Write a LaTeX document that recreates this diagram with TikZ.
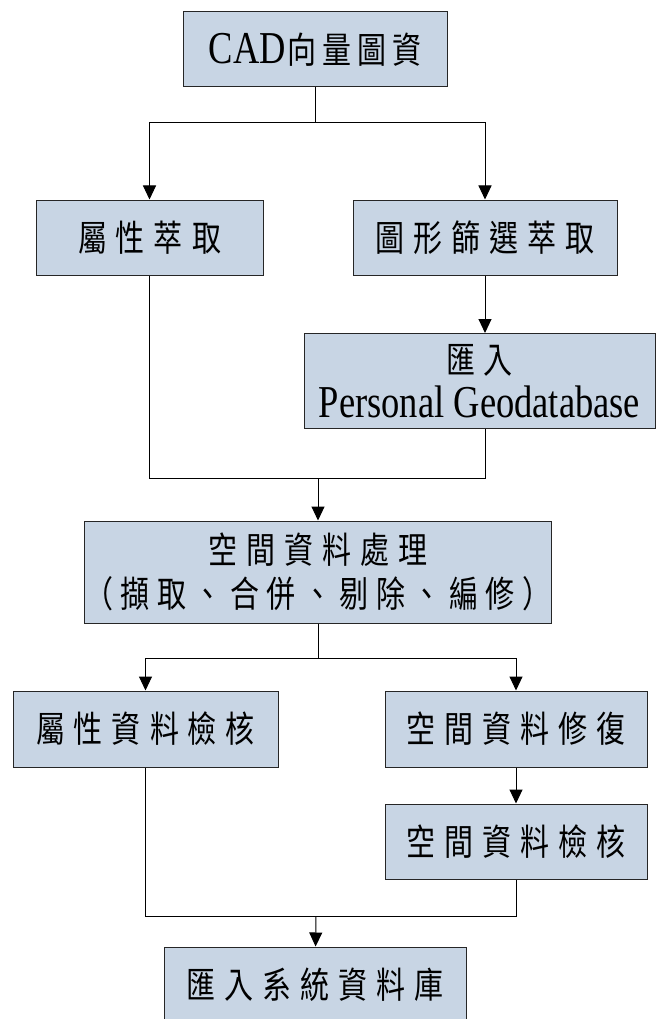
\documentclass[tikz,border=0pt]{standalone}
\usepackage{fontspec}
\usepackage{graphicx}
\setmainfont{Liberation Serif}
\newfontfamily\cjk{Noto Sans CJK TC}
\newfontfamily\latin{Liberation Serif}
\usetikzlibrary{arrows.meta}
\definecolor{boxblue}{RGB}{200,213,228}
\newcommand\tx[1]{\scalebox{1}[1.25]{#1}}
\newcommand\cgap{\hspace{9pt}}
\newcommand\pgap{\hspace{7.5pt}}
\newcommand\latinfs{\latin\fontsize{36.5}{44}\selectfont}
\tikzset{
  box/.style={draw=black!85, fill=boxblue, line width=1pt, inner sep=0pt, align=center,
              font=\cjk\fontsize{29}{44}\selectfont},
  conn/.style={line width=1pt, draw=black},
  arrow/.style={conn, -{Triangle[length=14pt,width=13pt]}}
}
\begin{document}
\begin{tikzpicture}[x=1pt,y=-1pt]
\fill[white] (0,0) rectangle (656,1019);
\useasboundingbox (0,0) rectangle (656,1019);
\clip (0,0) rectangle (656,1019);

% nodes
\node[box, minimum width=264pt, minimum height=75pt] (cad) at (315,49.5)
  {\tx{{\latinfs CAD}\hspace{1pt}向\hspace{6pt}量\hspace{6pt}圖\hspace{6pt}資}};
\node[box, minimum width=227pt, minimum height=75pt] (a1) at (149.5,237.5)
  {\tx{屬\cgap 性\cgap 萃\cgap 取}};
\node[box, minimum width=264pt, minimum height=75pt] (a2) at (485,237.5)
  {\tx{圖\cgap 形\cgap 篩\cgap 選\cgap 萃\cgap 取}};
\node[box, minimum width=351pt, minimum height=95pt] (a3) at (479.5,381)
  {\tx{匯\cgap 入}\\\tx{\latinfs Personal Geodatabase}};
\node[box, minimum width=458pt, minimum height=102pt] (b) at (318,572)
  {\tx{空\cgap 間\cgap 資\cgap 料\cgap 處\cgap 理}\\\tx{（\pgap 擷\pgap 取\pgap 、\pgap 合\pgap 併\pgap 、\pgap 剔\pgap 除\pgap 、\pgap 編\pgap 修\pgap ）}};
\node[box, minimum width=265pt, minimum height=76pt] (c1) at (145.5,729)
  {\tx{屬\cgap 性\cgap 資\cgap 料\cgap 檢\cgap 核}};
\node[box, minimum width=262pt, minimum height=76pt] (c2) at (516,729)
  {\tx{空\cgap 間\cgap 資\cgap 料\cgap 修\cgap 復}};
\node[box, minimum width=262pt, minimum height=75pt] (c3) at (516,841.5)
  {\tx{空\cgap 間\cgap 資\cgap 料\cgap 檢\cgap 核}};
\node[box, minimum width=302pt, minimum height=76pt] (d) at (315,985)
  {\tx{匯\cgap 入\cgap 系\cgap 統\cgap 資\cgap 料\cgap 庫}};

% junction points
\coordinate (s1) at (315,123);
\coordinate (m1) at (318,478);
\coordinate (s2) at (318,658);
\coordinate (m2) at (316,916);

% connectors
\draw[conn] (cad) -- (s1);
\draw[arrow] (s1) -| (a1);
\draw[arrow] (s1) -| (a2);
\draw[arrow] (a2.south) -- (a2.south |- a3.north);
\draw[conn] (a1.south) |- (a2.south |- m1) -- (a2.south |- a3.south);
\draw[arrow] (m1) -- (b);
\draw[conn] (b) -- (s2);
\draw[arrow] (s2) -| (c1);
\draw[arrow] (s2) -| (c2);
\draw[arrow] (c2) -- (c3);
\draw[conn] (c1.south) |- (m2) -| (c3.south);
\draw[arrow] (m2) -- (d);
\end{tikzpicture}
\end{document}
